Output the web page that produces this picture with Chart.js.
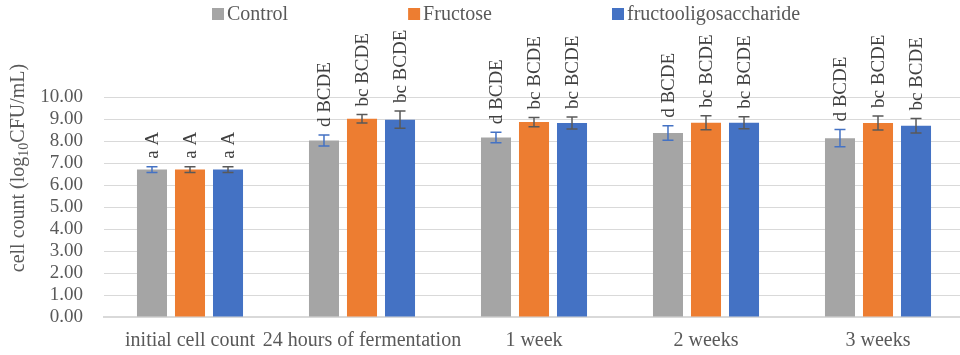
<!DOCTYPE html>
<html lang="en">
<head>
  <meta charset="UTF-8">
  <title>Cell count</title>
  <script src="https://cdn.jsdelivr.net/npm/chart.js"></script>
  <style>
    html, body { margin: 0; padding: 0; background: #fff; overflow: hidden; }
    .chart-box { position: relative; width: 966px; height: 355px; }
  </style>
</head>
<body>
  <div class="chart-box"><canvas id="chart"></canvas></div>
  <script>
    const categories = ['initial cell count', '24 hours of fermentation', '1 week', '2 weeks', '3 weeks'];
    const seriesNames = ['Control', 'Fructose', 'fructooligosaccharide'];

    const controlValues = [6.70, 8.02, 8.16, 8.36, 8.13];
    const fructoseValues = [6.70, 9.01, 8.86, 8.83, 8.82];
    const fosValues = [6.70, 8.97, 8.82, 8.83, 8.69];

    const controlErrors = [0.13, 0.25, 0.24, 0.33, 0.39];
    const fructoseErrors = [0.13, 0.19, 0.21, 0.32, 0.32];
    const fosErrors = [0.13, 0.39, 0.27, 0.27, 0.33];

    const controlLabels = ['a A', 'd BCDE', 'd BCDE', 'd BCDE', 'd BCDE'];
    const fructoseLabels = ['a A', 'bc BCDE', 'bc BCDE', 'bc BCDE', 'bc BCDE'];
    const fosLabels = ['a A', 'bc BCDE', 'bc BCDE', 'bc BCDE', 'bc BCDE'];

    const yTicks = [0, 1, 2, 3, 4, 5, 6, 7, 8, 9, 10];

    const SERIF = '"Liberation Serif", "Times New Roman", serif';
    const TEXT = '#595959';

    // error bars + rotated significance letters
    const annotations = {
      id: 'annotations',
      afterDatasetsDraw(chart) {
        const ctx = chart.ctx;
        const y = chart.scales.y;
        chart.data.datasets.forEach((ds, di) => {
          const meta = chart.getDatasetMeta(di);
          meta.data.forEach((bar, i) => {
            const v = ds.data[i];
            const e = ds.errors[i];
            const yTop = y.getPixelForValue(v + e);
            const yBot = y.getPixelForValue(v - e);
            ctx.save();
            ctx.strokeStyle = ds.errorColor;
            ctx.lineWidth = 1.5;
            ctx.beginPath();
            ctx.moveTo(bar.x, yTop); ctx.lineTo(bar.x, yBot);
            ctx.moveTo(bar.x - 5.5, yTop); ctx.lineTo(bar.x + 5.5, yTop);
            ctx.moveTo(bar.x - 5.5, yBot); ctx.lineTo(bar.x + 5.5, yBot);
            ctx.stroke();

            ctx.translate(bar.x, yTop - 8);
            ctx.rotate(-Math.PI / 2);
            ctx.fillStyle = '#404040';
            ctx.font = '19px ' + SERIF;
            ctx.textAlign = 'left';
            ctx.textBaseline = 'middle';
            ctx.fillText(ds.letters[i], 0, 1);
            ctx.restore();
          });
        });
      }
    };

    // legend row and y axis title with subscript
    const decorations = {
      id: 'decorations',
      afterDraw(chart) {
        const ctx = chart.ctx;
        ctx.save();
        ctx.font = '20px ' + SERIF;
        ctx.textBaseline = 'middle';
        let x = 212;
        chart.data.datasets.forEach(ds => {
          ctx.fillStyle = ds.backgroundColor;
          ctx.fillRect(x, 8, 12, 12);
          ctx.fillStyle = TEXT;
          ctx.textAlign = 'left';
          ctx.fillText(ds.label, x + 15, 15);
          x += 15 + ctx.measureText(ds.label).width + 120;
        });

        const parts = [['cell count (log', 20, 0], ['10', 14, 5], ['CFU/mL)', 20, 0]];
        let total = 0;
        parts.forEach(p => { ctx.font = p[1] + 'px ' + SERIF; total += ctx.measureText(p[0]).width; });
        ctx.translate(19, 168);
        ctx.rotate(-Math.PI / 2);
        let tx = -total / 2;
        parts.forEach(p => {
          ctx.font = p[1] + 'px ' + SERIF;
          ctx.fillText(p[0], tx, p[2]);
          tx += ctx.measureText(p[0]).width;
        });
        ctx.restore();
      }
    };

    new Chart(document.getElementById('chart'), {
      type: 'bar',
      data: {
        labels: categories,
        datasets: [
          { label: seriesNames[0], data: controlValues, errors: controlErrors, letters: controlLabels,
            backgroundColor: '#A5A5A5', errorColor: '#4472C4' },
          { label: seriesNames[1], data: fructoseValues, errors: fructoseErrors, letters: fructoseLabels,
            backgroundColor: '#ED7D31', errorColor: '#595959' },
          { label: seriesNames[2], data: fosValues, errors: fosErrors, letters: fosLabels,
            backgroundColor: '#4472C4', errorColor: '#595959' }
        ]
      },
      options: {
        responsive: true,
        maintainAspectRatio: false,
        animation: false,
        categoryPercentage: 0.663,
        barPercentage: 0.79,
        layout: { padding: { top: 97, left: 0, right: 2, bottom: 0 } },
        plugins: {
          legend: { display: false },
          tooltip: { enabled: false }
        },
        scales: {
          x: {
            grid: { display: false, drawTicks: false },
            border: { display: true, color: '#D9D9D9', width: 2 },
            ticks: { color: TEXT, font: { family: SERIF, size: 20 }, padding: 12, maxRotation: 0, autoSkip: false },
            afterFit(scale) { scale.height = 38; }
          },
          y: {
            min: 0,
            max: 10,
            afterBuildTicks(scale) { scale.ticks = yTicks.map(v => ({ value: v })); },
            grid: { color: '#D9D9D9', drawTicks: false },
            border: { display: false },
            ticks: {
              color: TEXT,
              font: { family: SERIF, size: 19 },
              padding: 21,
              autoSkip: false,
              callback: v => v.toFixed(2)
            },
            afterFit(scale) { scale.width = 104; }
          }
        }
      },
      plugins: [annotations, decorations]
    });
  </script>
</body>
</html>
